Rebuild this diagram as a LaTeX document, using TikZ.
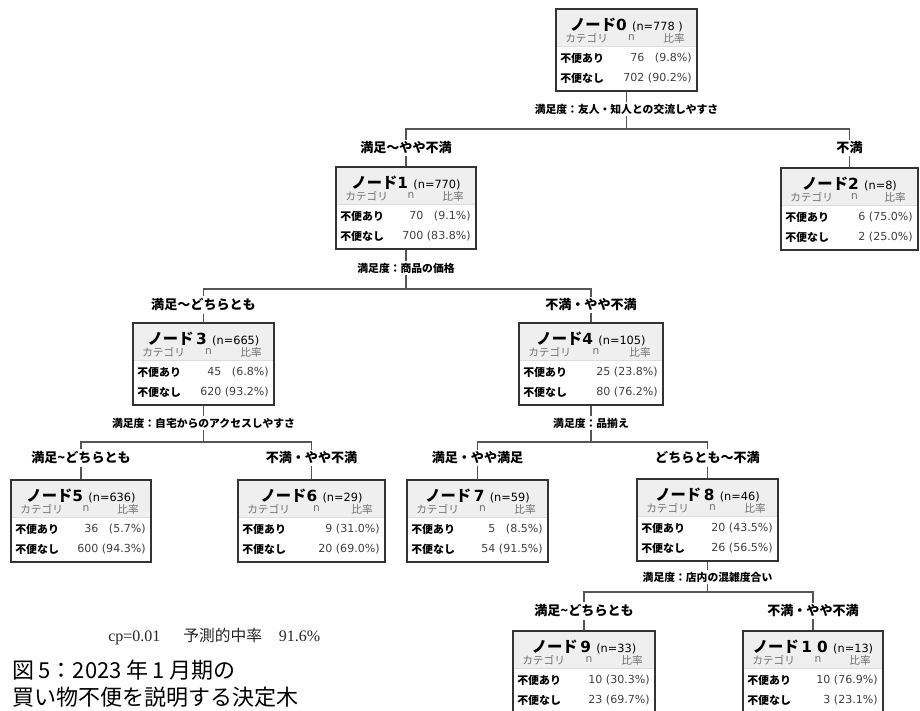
\documentclass[tikz,border=0pt]{standalone}
\usepackage{fontspec}
\setmainfont{Noto Sans CJK JP}
\newfontfamily\num{DejaVu Sans}
\newfontfamily\serifx{Liberation Serif}
\definecolor{hdrfill}{HTML}{EFEFEF}
\definecolor{framec}{HTML}{333333}
\definecolor{lnc}{HTML}{555555}
\definecolor{catgray}{HTML}{707070}
\definecolor{valgray}{HTML}{404040}
\definecolor{sepc}{HTML}{DDDDDD}
\newlength{\pctw}
\setlength{\pctw}{35pt}

\newcommand{\valrow}[4]{%
  \node[valx, anchor=east] at (#2-5,#1) {#3\ \makebox[\pctw][r]{(#4\%)}};}

\newcommand{\tbox}[8]{%
\begin{scope}[shift={(#2,#3)}]
  \pgfmathsetmacro{\hw}{#4/2}
  \fill[hdrfill] (-\hw,0) rectangle (\hw,38);
  \draw[sepc, line width=0.5pt] (-\hw,38) -- (\hw,38);
  \node[boxframe, minimum width=#4*0.75pt, minimum height=82*0.75pt, anchor=north] (#1) at (0,0) {};
  \node[ttl] at (0,17) {{\bfseries ノード}{\num\bfseries #5}\hspace{4pt}{\num\fontsize{8.5}{10}\selectfont(n=#6)}};
  \node[catx, anchor=west] at (-\hw+9,30) {カテゴリ};
  \node[catx] at (5,30) {\num n};
  \node[catx, anchor=east] at (\hw-12,30) {比率};
  \node[rowl, anchor=west] at (-\hw+4,50) {不便あり};
  \node[rowl, anchor=west] at (-\hw+4,70) {不便なし};
  \valrow{50}{\hw}#7
  \valrow{70}{\hw}#8
\end{scope}}

\begin{document}
\settowidth{\pctw}{\num\fontsize{8.3}{10}\selectfont(00.0\%)}%
\begin{tikzpicture}[x=0.75pt,y=-0.75pt,
  boxframe/.style={draw=framec, line width=1.3pt, rectangle, inner sep=0pt},
  ttl/.style={font=\fontsize{11.5}{13}\selectfont, inner sep=0pt},
  catx/.style={font=\fontsize{8}{9}\selectfont, text=catgray, inner sep=0pt},
  rowl/.style={font=\fontsize{8.2}{10}\selectfont\bfseries, inner sep=0pt},
  valx/.style={font=\num\fontsize{8.3}{10}\selectfont, text=valgray, inner sep=0pt},
  splitlab/.style={font=\fontsize{8.1}{9}\selectfont\bfseries, inner sep=1.5pt},
  elab/.style={font=\fontsize{9.8}{12}\selectfont\bfseries, inner sep=1.5pt},
  conn/.style={draw=lnc, line width=0.8pt}]
\useasboundingbox (0,0) rectangle (920,710);
\fill[white] (0,0) rectangle (920,710);

% boxes
\tbox{n0}{626.5}{8}{141}{0}{778\ }{{76}{9.8}}{{702}{90.2}}
\tbox{n1}{406}{166}{140}{1}{770}{{70}{9.1}}{{700}{83.8}}
\tbox{n2}{849.5}{167}{137}{2}{8}{{6}{75.0}}{{2}{25.0}}
\tbox{n3}{203.5}{322}{141}{\,3}{665}{{45}{6.8}}{{620}{93.2}}
\tbox{n4}{591}{322}{144}{4}{105}{{25}{23.8}}{{80}{76.2}}
\tbox{n5}{81}{479}{140}{5}{636}{{36}{5.7}}{{600}{94.3}}
\tbox{n6}{311.5}{479}{147}{6}{29}{{9}{31.0}}{{20}{69.0}}
\tbox{n7}{477.5}{479}{141}{\,7}{59}{{5}{8.5}}{{54}{91.5}}
\tbox{n8}{707.5}{478}{141}{\,8}{46}{{20}{43.5}}{{26}{56.5}}
\tbox{n9}{584}{630}{142}{\,9}{33}{{10}{30.3}}{{23}{69.7}}
\tbox{n10}{813}{630}{140}{\,1\,\,0}{13}{{10}{76.9}}{{3}{23.1}}

% level 1
\node[splitlab] (s0) at (626.5,109) {満足度：友人・知人との交流しやすさ};
\coordinate (j0) at (626.5,129);
\node[elab] (e1) at (406,148) {満足～やや不満};
\node[elab] (e2) at (849.5,148) {不満};
\draw[conn] (n0.south) -- (s0.north);
\draw[conn] (s0.south) -- (j0);
\draw[conn] (e1.north) |- (j0) -| (e2.north);
\draw[conn] (e1.south) -- (n1.north);
\draw[conn] (e2.south) -- (n2.north);

% level 2
\node[splitlab] (s1) at (406,268) {満足度：商品の価格};
\coordinate (j1) at (406,289);
\node[elab] (e3) at (203.5,305) {満足～どちらとも};
\node[elab] (e4) at (591,305) {不満・やや不満};
\draw[conn] (n1.south) -- (s1.north);
\draw[conn] (s1.south) -- (j1);
\draw[conn] (e3.north) |- (j1) -| (e4.north);
\draw[conn] (e3.south) -- (n3.north);
\draw[conn] (e4.south) -- (n4.north);

% level 3 left
\node[splitlab] (s3) at (203.5,423) {満足度：自宅からのアクセスしやすさ};
\coordinate (j3) at (203.5,442);
\node[elab] (e5) at (81,458) {満足{\char"7E}どちらとも};
\node[elab] (e6) at (311.5,458) {不満・やや不満};
\draw[conn] (n3.south) -- (s3.north);
\draw[conn] (s3.south) -- (j3);
\draw[conn] (e5.north) |- (j3) -| (e6.north);
\draw[conn] (e5.south) -- (n5.north);
\draw[conn] (e6.south) -- (n6.north);

% level 3 right
\node[splitlab] (s4) at (591,423) {満足度：品揃え};
\coordinate (j4) at (591,442);
\node[elab] (e7) at (477.5,458) {満足・やや満足};
\node[elab] (e8) at (707.5,458) {どちらとも～不満};
\draw[conn] (n4.south) -- (s4.north);
\draw[conn] (s4.south) -- (j4);
\draw[conn] (e7.north) |- (j4) -| (e8.north);
\draw[conn] (e7.south) -- (n7.north);
\draw[conn] (e8.south) -- (n8.north);

% level 4
\node[splitlab] (s8) at (707.5,577) {満足度：店内の混雑度合い};
\coordinate (j8) at (707.5,592);
\node[elab] (e9) at (584,611) {満足{\char"7E}どちらとも};
\node[elab] (e10) at (813,611) {不満・やや不満};
\draw[conn] (n8.south) -- (s8.north);
\draw[conn] (s8.south) -- (j8);
\draw[conn] (e9.north) |- (j8) -| (e10.north);
\draw[conn] (e9.south) -- (n9.north);
\draw[conn] (e10.south) -- (n10.north);

% captions
\node[anchor=west, inner sep=0pt, font=\fontsize{11.5}{14}\selectfont, text=black!85] (cp) at (108,637)
  {{\serifx\fontsize{12}{14}\selectfont cp=0.01}\hspace{1.5em}{\fontsize{11.8}{14}\selectfont 予測的中率}\hspace{1.1em}{\serifx\fontsize{12}{14}\selectfont 91.6\%}};
\node[anchor=west, inner sep=0pt, font=\fontsize{16.5}{20}\selectfont] (cap1) at (12,670) {図\hspace{0.2em}5：2023\hspace{0.2em}年\hspace{0.2em}1\hspace{0.2em}月期の};
\node[anchor=west, inner sep=0pt, font=\fontsize{16.5}{20}\selectfont] (cap2) at (12,697) {買い物不便を説明する決定木};
\end{tikzpicture}
\end{document}
